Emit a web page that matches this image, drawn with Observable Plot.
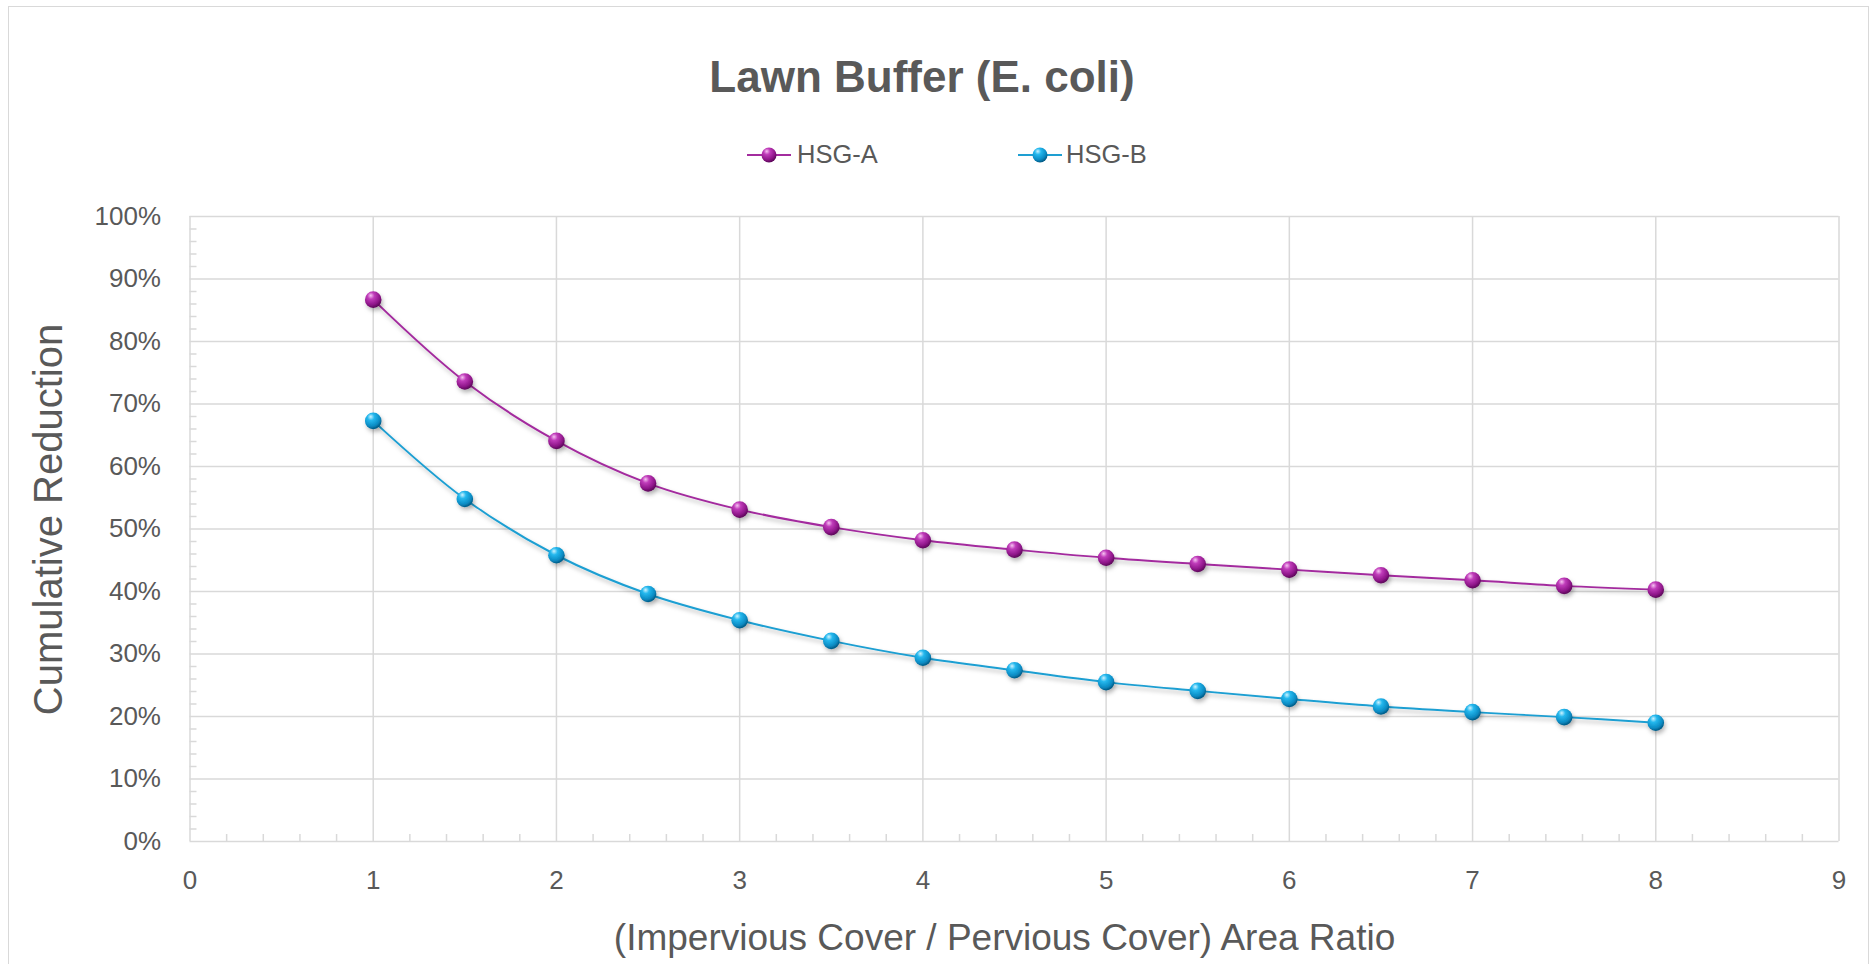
<!DOCTYPE html>
<html>
<head>
<meta charset="utf-8">
<script src="https://cdn.jsdelivr.net/npm/d3@7"></script>
<script src="https://cdn.jsdelivr.net/npm/@observablehq/plot@0.6"></script>
<style>
  html, body { margin: 0; padding: 0; background: #fff; }
  #chart { position: relative; width: 1874px; height: 964px; overflow: hidden; background: #fff;
           font-family: "Liberation Sans", Arial, sans-serif; color: #595959; }
  #frame { position: absolute; left: 8px; top: 6px; width: 1861px; height: 1000px;
           border: 1.5px solid #d9d9d9; box-sizing: border-box; }
  #title { position: absolute; top: 55px; left: 922px; transform: translateX(-50%);
           font-size: 44px; line-height: 44px; font-weight: bold; white-space: nowrap; }
  .key { position: absolute; top: 142px; font-size: 25.5px; line-height: 25.5px; white-space: nowrap; }
  .swatch { position: absolute; top: 145px; }
  #plot { position: absolute; left: 0; top: 180px; }
</style>
</head>
<body>
<!-- shared paint servers: glossy sphere markers and a soft drop shadow -->
<svg width="0" height="0" style="position:absolute">
  <defs>
    <radialGradient id="sphere-a" cx="0.38" cy="0.3" r="0.7" fx="0.35" fy="0.25">
      <stop offset="0" stop-color="#f6c2f2"/>
      <stop offset="0.3" stop-color="#c03cba"/>
      <stop offset="0.75" stop-color="#8e1689"/>
      <stop offset="1" stop-color="#5c0659"/>
    </radialGradient>
    <radialGradient id="sphere-b" cx="0.38" cy="0.3" r="0.7" fx="0.35" fy="0.25">
      <stop offset="0" stop-color="#cdf3ff"/>
      <stop offset="0.3" stop-color="#25b8ee"/>
      <stop offset="0.75" stop-color="#0a8cc4"/>
      <stop offset="1" stop-color="#035a85"/>
    </radialGradient>
    <filter id="soft-shadow" x="-10%" y="-10%" width="120%" height="130%">
      <feDropShadow dx="1.5" dy="3" stdDeviation="2" flood-color="#000" flood-opacity="0.28"/>
    </filter>
  </defs>
</svg>

<div id="chart">
  <div id="frame"></div>
  <div id="title">Lawn Buffer (E. coli)</div>
  <svg class="swatch" style="left:747px" width="44" height="20">
    <line x1="0" y1="10" x2="44" y2="10" stroke="#a32c9e" stroke-width="2"/>
    <circle cx="22" cy="10" r="7.5" fill="url(#sphere-a)"/>
  </svg>
  <div class="key" style="left:797px">HSG-A</div>
  <svg class="swatch" style="left:1018px" width="44" height="20">
    <line x1="0" y1="10" x2="44" y2="10" stroke="#1e9fd2" stroke-width="2"/>
    <circle cx="22" cy="10" r="7.5" fill="url(#sphere-b)"/>
  </svg>
  <div class="key" style="left:1066px">HSG-B</div>
  <div id="plot"></div>
</div>

<script>
// Area ratio (impervious / pervious) and cumulative E. coli reduction (%) per soil group
const ratio = [1, 1.5, 2, 2.5, 3, 3.5, 4, 4.5, 5, 5.5, 6, 6.5, 7, 7.5, 8];
const hsgA  = [86.7, 73.6, 64.1, 57.3, 53.1, 50.3, 48.2, 46.7, 45.4, 44.4, 43.5, 42.6, 41.8, 40.9, 40.3];
const hsgB  = [67.3, 54.8, 45.8, 39.6, 35.4, 32.1, 29.4, 27.4, 25.5, 24.1, 22.8, 21.6, 20.7, 19.9, 19.0];

// Axis ticks
const xTicks = [0, 1, 2, 3, 4, 5, 6, 7, 8, 9];
const yTicks = [0, 10, 20, 30, 40, 50, 60, 70, 80, 90, 100];
const xMinor = d3.range(0, 9.001, 0.2).filter(v => Math.abs(v - Math.round(v)) > 1e-6);
const yMinor = d3.range(0, 100.001, 2).filter(v => v % 10 !== 0);

const W = 1874, H = 784;
const M = {top: 36, right: 35.5, bottom: 123, left: 189.5};
const plotW = W - M.left - M.right;
const plotH = H - M.top - M.bottom;
const GRID = "#d9d9d9";
const colorA = "#a32c9e", colorB = "#1e9fd2";

const rows = ratio.map((r, i) => ({ratio: r, a: hsgA[i], b: hsgB[i]}));

const chart = Plot.plot({
  width: W,
  height: H,
  marginTop: M.top,
  marginRight: M.right,
  marginBottom: M.bottom,
  marginLeft: M.left,
  style: {fontFamily: "'Liberation Sans', Arial, sans-serif", color: "#595959", background: "transparent", overflow: "visible"},
  x: {domain: [0, 9]},
  y: {domain: [0, 100]},
  marks: [
    // gridlines
    Plot.ruleY(yTicks, {stroke: GRID, strokeWidth: 1.5}),
    Plot.ruleX(xTicks, {stroke: GRID, strokeWidth: 1.5}),
    // small inward ticks along the axes
    Plot.ruleX(xMinor, {stroke: GRID, strokeWidth: 1.5, insetTop: plotH - 7}),
    Plot.ruleY(yMinor, {stroke: GRID, strokeWidth: 1.5, insetRight: plotW - 7}),
    // tick labels
    Plot.axisX({ticks: xTicks, tickSize: 0, tickPadding: 29, fontSize: 26, label: null}),
    Plot.axisY({ticks: yTicks, tickSize: 0, tickPadding: 29, fontSize: 26, label: null, tickFormat: d => d + "%"}),
    // axis titles
    Plot.text(["Cumulative Reduction"], {frameAnchor: "left", textAnchor: "middle", rotate: -90, dx: -140.5, dy: -9.5,
      fontSize: 40, lineAnchor: "middle", fill: "#595959"}),
    Plot.text(["(Impervious Cover / Pervious Cover) Area Ratio"], {frameAnchor: "bottom", textAnchor: "middle", dx: -10, dy: 97,
      fontSize: 37, lineAnchor: "middle", fill: "#595959"}),
    // series
    Plot.line(rows, {x: "ratio", y: "a", stroke: colorA, strokeWidth: 2, curve: "catmull-rom"}),
    Plot.line(rows, {x: "ratio", y: "b", stroke: colorB, strokeWidth: 2, curve: "catmull-rom"}),
    Plot.dot(rows, {x: "ratio", y: "a", r: 8.3, fill: "url(#sphere-a)", stroke: "none"}),
    Plot.dot(rows, {x: "ratio", y: "b", r: 8.3, fill: "url(#sphere-b)", stroke: "none"})
  ]
});

chart.querySelectorAll('g[aria-label="line"], g[aria-label="dot"]').forEach(g => g.setAttribute("filter", "url(#soft-shadow)"));
document.getElementById("plot").appendChild(chart);
</script>
</body>
</html>
